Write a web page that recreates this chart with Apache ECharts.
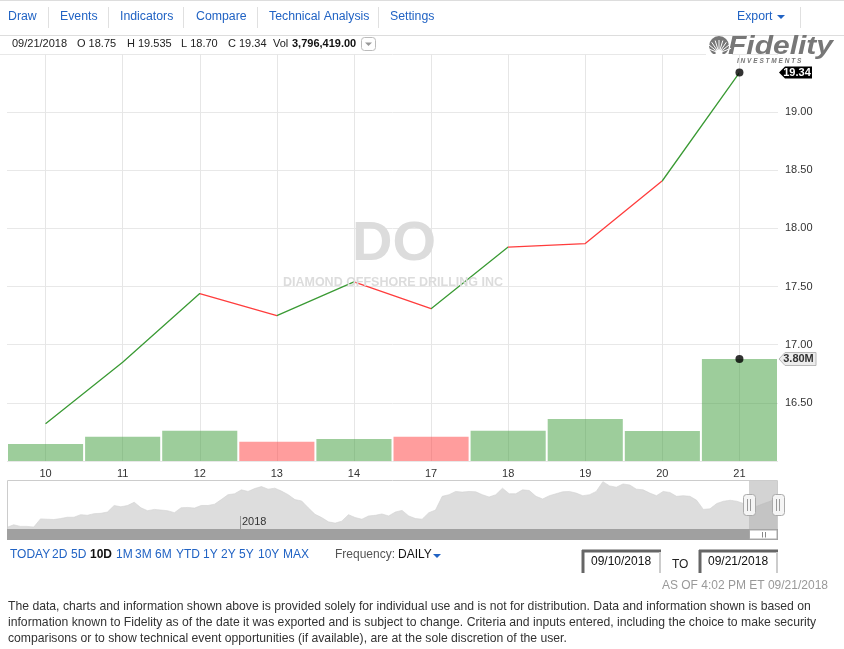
<!DOCTYPE html>
<html><head><meta charset="utf-8">
<script src="https://cdn.jsdelivr.net/npm/echarts@6/dist/echarts.min.js"></script>
<style>html,body{margin:0;padding:0;background:#fff;}#c{width:844px;height:649px;}</style>
</head><body><div id="c"></div>
<script>
// ---------- data ----------
const categories = ['10','11','12','13','14','17','18','19','20','21'];
const closes = [16.32, 16.85, 17.44, 17.25, 17.54, 17.31, 17.84, 17.87, 18.41, 19.34];
const segmentDir = ['up','up','down','up','down','up','down','down','up'];
const volumes = [630000, 900000, 1130000, 720000, 820000, 900000, 1130000, 1560000, 1120000, 3796419];
const volumeDir = ['up','up','up','down','up','down','up','up','up','up'];
const priceTicks = ['16.50','17.00','17.50','18.00','18.50','19.00'];
const navHistory = [5,13,8,8,6,31,30,29,32,36,36,44,42,47,48,52,72,68,72,82,65,56,60,58,56,50,65,66,64,72,72,76,90,105,108,120,115,124,130,122,125,116,105,90,86,65,45,35,22,18,24,44,35,30,40,42,46,40,52,
  57,40,32,30,50,58,100,105,115,113,115,114,105,98,105,125,108,108,120,118,100,92,102,108,114,115,110,102,105,115,145,132,128,138,135,122,120,110,102,115,112,100,102,100,88,60,62,78,85,88,85,78,70,70,78,85,100];
const menuItems = ['Draw','Events','Indicators','Compare','Technical Analysis','Settings'];
const infoItems = ['09/21/2018','O 18.75','H 19.535','L 18.70','C 19.34','Vol'];
const infoVolume = '3,796,419.00';
const rangeButtons = ['TODAY','2D','5D','10D','1M','3M','6M','YTD','1Y','2Y','5Y','10Y','MAX'];
const activeRange = '10D';
const lastPriceLabel = '19.34';
const lastVolumeLabel = '3.80M';
const footerLines = [
 'The data, charts and information shown above is provided solely for individual use and is not for distribution. Data and information shown is based on',
 'information known to Fidelity as of the date it was exported and is subject to change. Criteria and inputs entered, including the choice to make security',
 'comparisons or to show technical event opportunities (if available), are at the sole discretion of the user.'
];

// ---------- style ----------
const FF = '"Liberation Sans", Arial, Helvetica, sans-serif';
const GREEN = '#3a9a34', RED = '#ff3c3c';
const BLUE = '#2163c4';
const GRID = {left: 7, right: 66, top: 54, bottom: 188};
const last = categories.length - 1;

const chart = echarts.init(document.getElementById('c'), null, {renderer: 'canvas'});

const pieces = [{lte: 0, color: GREEN}].concat(
  segmentDir.map((d, i) => ({gt: i, lte: i + 1, color: d === 'up' ? GREEN : RED})));

chart.setOption({
  animation: false,
  textStyle: {fontFamily: FF},
  grid: [
    {left: GRID.left, right: GRID.right, top: GRID.top, bottom: GRID.bottom},
    {left: 7, right: 67, top: 481, bottom: 120}
  ],
  visualMap: {show: false, type: 'piecewise', dimension: 0, seriesIndex: 0, pieces: pieces},
  xAxis: [
    {type: 'category', data: categories, gridIndex: 0, boundaryGap: true,
     axisLine: {show: false}, axisTick: {show: false},
     axisLabel: {color: '#333', fontSize: 11, margin: 7, fontFamily: FF},
     splitLine: {show: false}},
    {type: 'category', gridIndex: 1, data: navHistory.map((v, i) => i), boundaryGap: false, show: false}
  ],
  yAxis: [
    {type: 'value', gridIndex: 0, position: 'right', min: 16, max: 19.5, interval: 0.5,
     axisLine: {show: false}, axisTick: {show: false},
     axisLabel: {color: '#333', fontSize: 11, margin: 7, fontFamily: FF,
       formatter: v => priceTicks.indexOf(v.toFixed(2)) >= 0 ? v.toFixed(2) : ''},
     splitLine: {show: true, lineStyle: {color: '#e8e8e8', width: 1}}},
    {type: 'value', gridIndex: 0, min: 0, max: 15150000, show: false, splitLine: {show: false}},
    {type: 'value', gridIndex: 1, min: 0, max: 147, show: false}
  ],
  series: [
    {type: 'line', name: 'price', xAxisIndex: 0, yAxisIndex: 0, data: closes, z: 4,
     showSymbol: false, symbol: 'none', lineStyle: {width: 1.3}},
    {type: 'bar', name: 'volume', xAxisIndex: 0, yAxisIndex: 1, z: 1, barCategoryGap: '2.6%',
     data: volumes.map((v, i) => ({value: v, itemStyle: {color: volumeDir[i] === 'up' ? 'rgba(60,155,55,0.5)' : 'rgba(255,60,60,0.5)'}}))},
    {type: 'scatter', name: 'lastPrice', xAxisIndex: 0, yAxisIndex: 0, z: 5, symbolSize: 8,
     itemStyle: {color: '#000'}, data: closes.map((v, i) => i === last ? v : '-')},
    {type: 'scatter', name: 'lastVol', xAxisIndex: 0, yAxisIndex: 1, z: 5, symbolSize: 8,
     itemStyle: {color: '#000'}, data: volumes.map((v, i) => i === last ? v : '-')},
    {type: 'line', name: 'nav', xAxisIndex: 1, yAxisIndex: 2, data: navHistory, symbol: 'none',
     lineStyle: {color: '#d2d2d2', width: 0.6}, areaStyle: {color: '#dddddd', opacity: 1}, z: 1},
    {type: 'line', name: 'vgrid', xAxisIndex: 0, yAxisIndex: 0, data: [], z: 0, silent: true,
     markLine: {silent: true, z: 0, symbol: 'none', label: {show: false}, animation: false,
       lineStyle: {color: '#e6e6e6', width: 1, type: 'solid'},
       data: categories.map(c => ({xAxis: c}))}}
  ]
});

// ---------- decorations ----------
const pPrice = chart.convertToPixel({xAxisIndex: 0, yAxisIndex: 0}, [categories[last], closes[last]]);
const pVol = chart.convertToPixel({xAxisIndex: 0, yAxisIndex: 1}, [categories[last], volumes[last]]);
const gridRightX = 844 - GRID.right;

const els = [];
function txt(x, y, text, o) {
  o = o || {};
  els.push({type: 'text', x: x, y: y, z: o.z || 10, scaleX: o.scaleX || 1,
    style: {text: text, fill: o.fill || '#333',
      font: (o.style || 'normal') + ' ' + (o.weight || 'normal') + ' ' + (o.size || 12) + 'px ' + FF,
      textAlign: o.align || 'left', textVerticalAlign: 'middle'}});
}
function line(x1, y1, x2, y2, color, w, z) {
  els.push({type: 'line', z: z || 10, shape: {x1: x1, y1: y1, x2: x2, y2: y2}, style: {stroke: color, lineWidth: w || 1}});
}
function rect(x, y, w, h, fill, stroke, r, z, lw) {
  els.push({type: 'rect', z: z || 10, shape: {x: x, y: y, width: w, height: h, r: r || 0},
    style: {fill: fill, stroke: stroke || null, lineWidth: lw || 1}});
}

// toolbar
line(0, 0.5, 844, 0.5, '#dddddd');
line(0, 35.5, 844, 35.5, '#dddddd');
const menuX = [8, 60, 120, 196, 269, 390];
menuItems.forEach((m, i) => txt(menuX[i], 17, m, {fill: BLUE, size: 12.3}));
[48, 108, 183, 257, 378, 800].forEach(x => line(x + 0.5, 7, x + 0.5, 28, '#e0e0e0'));
txt(737, 17, 'Export', {fill: BLUE, size: 12.3});
els.push({type: 'polygon', z: 10, shape: {points: [[777, 15], [785, 15], [781, 19]]}, style: {fill: BLUE}});

// info line
const infoX = [12, 77, 127, 181, 228, 273];
infoItems.forEach((t, i) => txt(infoX[i], 44, t, {size: 11, fill: '#222'}));
txt(292, 44, infoVolume, {size: 11, fill: '#111', weight: 'bold'});
rect(361.5, 37.5, 14, 13, '#fff', '#bbbbbb', 3);
els.push({type: 'polygon', z: 11, shape: {points: [[365, 42.5], [372, 42.5], [368.5, 46]]}, style: {fill: '#999'}});
line(0, 54.5, GRID.left, 54.5, '#e8e8e8');

// watermark
txt(394, 245, 'DO', {size: 56, weight: 'bold', fill: '#dcdcdc', align: 'center', z: 0});
txt(393, 283, 'DIAMOND OFFSHORE DRILLING INC', {size: 12.5, weight: 'bold', fill: '#dcdcdc', align: 'center', z: 0});

// Fidelity logo
els.push({type: 'circle', z: 10, shape: {cx: 719, cy: 46, r: 10}, style: {fill: '#777'}});
for (let k = 0; k < 9; k++) {
  const a = Math.PI * (0.12 + 0.76 * k / 8);
  line(719, 53, 719 - Math.cos(a) * 13, 53 - Math.sin(a) * 13, '#fff', 1, 11);
}
els.push({type: 'circle', z: 12, shape: {cx: 719, cy: 53, r: 3.5}, style: {fill: '#fff'}});
rect(706, 54, 26, 6, '#fff', null, 0, 12);
txt(728, 47, 'Fidelity', {size: 25, weight: 'bold', style: 'italic', fill: '#777', scaleX: 1.2});
txt(737, 61, 'I N V E S T M E N T S', {size: 6.5, weight: 'bold', style: 'italic', fill: '#777'});

// last price badge
els.push({type: 'polygon', z: 10, shape: {points: [[gridRightX + 1, pPrice[1]], [gridRightX + 7, pPrice[1] - 6], [812, pPrice[1] - 6], [812, pPrice[1] + 6], [gridRightX + 7, pPrice[1] + 6]]}, style: {fill: '#000'}});
txt(797, pPrice[1], lastPriceLabel, {size: 11, weight: 'bold', fill: '#fff', align: 'center', z: 11});
// last volume badge
els.push({type: 'polygon', z: 10, shape: {points: [[gridRightX + 1, pVol[1]], [gridRightX + 7, pVol[1] - 6.5], [816, pVol[1] - 6.5], [816, pVol[1] + 6.5], [gridRightX + 7, pVol[1] + 6.5]]}, style: {fill: '#ececec', stroke: '#b8b8b8', lineWidth: 1}});
txt(798.5, pVol[1], lastVolumeLabel, {size: 11, weight: 'bold', fill: '#333', align: 'center', z: 11});

// navigator
rect(7.5, 480.5, 770, 59, null, '#cccccc', 0, 9);
rect(7, 529, 771, 11, '#a0a0a0', null, 0, 9);
rect(749, 481, 28, 48, 'rgba(175,175,175,0.55)', null, 0, 9);
rect(749.5, 530, 27.5, 9, '#fff', '#aaaaaa', 0, 10);
line(762.5, 532, 762.5, 537.5, '#888', 1, 11);
line(765.5, 532, 765.5, 537.5, '#888', 1, 11);
[743, 772].forEach(x => {
  rect(x + 0.5, 494.5, 12, 21, '#f5f5f5', '#aaaaaa', 3, 11);
  line(x + 4.5, 499, x + 4.5, 511, '#999', 1, 12);
  line(x + 7.5, 499, x + 7.5, 511, '#999', 1, 12);
});
line(240.5, 516, 240.5, 529, '#999', 1, 10);
txt(242, 522, '2018', {size: 11, fill: '#333'});

// range buttons
const rangeX = [10, 52, 71, 90, 116, 135, 155, 176, 203, 221, 239, 258, 283];
rangeButtons.forEach((b, i) => txt(rangeX[i], 555, b, b === activeRange ? {size: 12, fill: '#111', weight: 'bold'} : {size: 12, fill: BLUE}));
txt(335, 555, 'Frequency:', {size: 12, fill: '#555'});
txt(398, 555, 'DAILY', {size: 12, fill: '#111'});
els.push({type: 'polygon', z: 10, shape: {points: [[433, 554], [441, 554], [437, 558]]}, style: {fill: BLUE}});

// date boxes
[[582, '09/10/2018'], [699, '09/21/2018']].forEach(([x, t]) => {
  line(x, 551, x + 79, 551, '#666', 3);
  line(x + 1, 550, x + 1, 573, '#666', 3);
  line(x + 78, 552, x + 78, 573, '#cccccc', 2);
  txt(x + 9, 562, t, {size: 12, fill: '#111'});
});
txt(672, 565, 'TO', {size: 12, fill: '#222'});
txt(828, 586, 'AS OF 4:02 PM ET 09/21/2018', {size: 12, fill: '#999', align: 'right'});

// footer
footerLines.forEach((l, i) => txt(8, 607 + i * 16, l, {size: 12.2, fill: '#333'}));

chart.setOption({graphic: {elements: els}});
</script></body></html>
